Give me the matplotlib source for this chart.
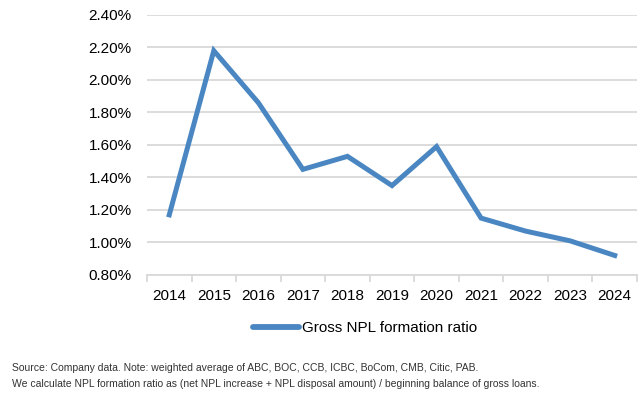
import numpy as np
import matplotlib.pyplot as plt
from matplotlib.ticker import FuncFormatter, MultipleLocator

plt.rcParams['font.family'] = ['Liberation Sans', 'DejaVu Sans']

# Data
years = ['2014', '2015', '2016', '2017', '2018', '2019', '2020', '2021', '2022', '2023', '2024']
npl_formation = [1.17, 2.18, 1.86, 1.45, 1.53, 1.35, 1.59, 1.15, 1.07, 1.01, 0.92]

line_color = '#4a87c2'
grid_color = '#d9d9d9'

fig = plt.figure(figsize=(6.43, 3.96), dpi=100)
ax = fig.add_axes([0.2286, 0.3056, 0.7621, 0.6566])

x = np.arange(len(years))
ax.plot(x, npl_formation, color=line_color, lw=3.6, solid_joinstyle='miter',
        label='Gross NPL formation ratio')

# Axes styling
ax.set_ylim(0.8, 2.4)
ax.set_xlim(-0.5, len(years) - 0.5)
ax.yaxis.set_major_locator(MultipleLocator(0.2))
ax.yaxis.set_major_formatter(FuncFormatter(lambda v, _: f'{v:.2f}%'))
ax.grid(axis='y', color=grid_color, lw=1.3)
ax.set_axisbelow(True)

ax.set_xticks(x)
ax.set_xticklabels(years)
ax.set_xticks(np.arange(-0.5, len(years)), minor=True)
ax.tick_params(axis='x', which='major', length=0, pad=10, labelsize=11)
ax.tick_params(axis='x', which='minor', length=5, color=grid_color, width=1.3)
ax.tick_params(axis='y', length=0, pad=11, labelsize=11)

for side in ['top', 'right', 'left']:
    ax.spines[side].set_visible(False)
ax.spines['bottom'].set_color(grid_color)
ax.spines['bottom'].set_linewidth(1.3)

# Legend below the plot
leg = fig.legend(loc='center', bbox_to_anchor=(0.568, 0.172), frameon=False,
                 fontsize=11, handlelength=3.0, handletextpad=0.2)
for h in leg.get_lines():
    h.set_solid_capstyle('round')
    h.set_linewidth(4.2)

# Footnote
fig.text(0.019, 0.071, 'Source: Company data. Note: weighted average of ABC, BOC, CCB, ICBC, BoCom, CMB, Citic, PAB.',
         fontsize=7.5, color='#333333', va='center')
fig.text(0.019, 0.030, 'We calculate NPL formation ratio as (net NPL increase + NPL disposal amount) / beginning balance of gross loans.',
         fontsize=7.5, color='#333333', va='center')

fig.savefig('out.png', dpi=100)
